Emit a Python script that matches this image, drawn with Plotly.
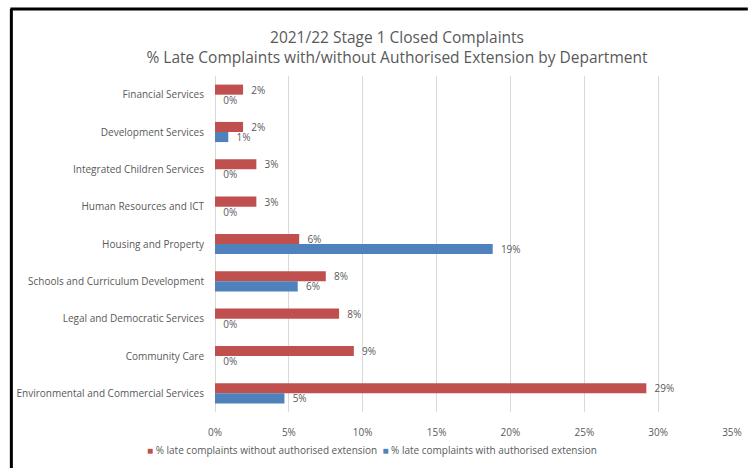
import plotly.graph_objects as go

# Departments, listed top to bottom
departments = [
    "Financial Services",
    "Development Services",
    "Integrated Children Services",
    "Human Resources and ICT",
    "Housing and Property",
    "Schools and Curriculum Development",
    "Legal and Democratic Services",
    "Community Care",
    "Environmental and Commercial Services",
]

# Share of late complaints (fractions)
late_without_ext = [0.019, 0.019, 0.028, 0.028, 0.057, 0.075, 0.084, 0.094, 0.292]
late_with_ext = [0.0, 0.009, 0.0, 0.0, 0.188, 0.056, 0.0, 0.0, 0.047]

series_names = [
    "% late complaints without authorised extension",
    "% late complaints with authorised extension",
]
series_colors = ["#C0504D", "#4F81BD"]

x_ticks = [0, 0.05, 0.10, 0.15, 0.20, 0.25, 0.30, 0.35]

W, H = 754, 468
M_L, M_R, M_T, M_B = 215, 16, 76, 56
FONT = "Open Sans"
GREY = "#595959"

fig = go.Figure()
for name, vals, color in zip(series_names, [late_without_ext, late_with_ext], series_colors):
    fig.add_trace(go.Bar(
        y=departments,
        x=vals,
        name=name,
        orientation="h",
        marker=dict(color=color, line=dict(width=0)),
        texttemplate="\u00a0\u00a0%{x:.0%}",
        textposition="outside",
        constraintext="none",
        cliponaxis=False,
        textfont=dict(family=FONT, size=10, color=GREY),
        showlegend=False,
    ))

# Convert pixel positions into paper coordinates
pw = W - M_L - M_R
ph = H - M_T - M_B

def px_x(p):
    return (p - M_L) / pw

def px_y(p):
    return (H - M_B - p) / ph

# Black frame (top and left edges)
frame = dict(color="black", width=3)
fig.add_shape(type="line", xref="paper", yref="paper",
              x0=px_x(8), x1=px_x(754), y0=px_y(9), y1=px_y(9), line=frame)
fig.add_shape(type="line", xref="paper", yref="paper",
              x0=px_x(9), x1=px_x(9), y0=px_y(9), y1=px_y(468), line=frame)

# Legend row: coloured squares followed by the series names
legend_text = "&nbsp;&nbsp;".join(
    f"<span style='color:{c}'>■</span> {n}" for n, c in zip(series_names, series_colors)
)
fig.add_annotation(
    xref="paper", yref="paper",
    x=px_x(374), y=px_y(450),
    xanchor="center", yanchor="middle",
    text=legend_text, showarrow=False,
    font=dict(family=FONT, size=10, color=GREY),
)

fig.update_layout(
    width=W, height=H,
    margin=dict(l=M_L, r=M_R, t=M_T, b=M_B),
    paper_bgcolor="white",
    plot_bgcolor="white",
    barmode="group",
    bargap=0.46,
    bargroupgap=0,
    font=dict(family=FONT, color=GREY),
    showlegend=False,
    title=dict(
        text="2021/22 Stage 1 Closed Complaints<br>% Late Complaints with/without Authorised Extension by Department",
        x=397 / W,
        xanchor="center",
        y=1 - 43 / H,
        yanchor="middle",
        font=dict(family=FONT, size=15.5, color=GREY),
    ),
    xaxis=dict(
        range=[0, 0.35],
        tickvals=x_ticks,
        tickformat=".0%",
        showgrid=True,
        gridcolor="#d9d9d9",
        gridwidth=1,
        zeroline=True,
        zerolinecolor="#d9d9d9",
        zerolinewidth=1,
        showline=False,
        ticks="",
        ticklabelstandoff=13,
        tickfont=dict(family=FONT, size=10, color=GREY),
        fixedrange=True,
    ),
    yaxis=dict(
        autorange="reversed",
        showgrid=False,
        showline=False,
        ticks="",
        ticklabelstandoff=10,
        tickfont=dict(family=FONT, size=10, color=GREY),
        fixedrange=True,
    ),
)

fig.write_html("out.html")
